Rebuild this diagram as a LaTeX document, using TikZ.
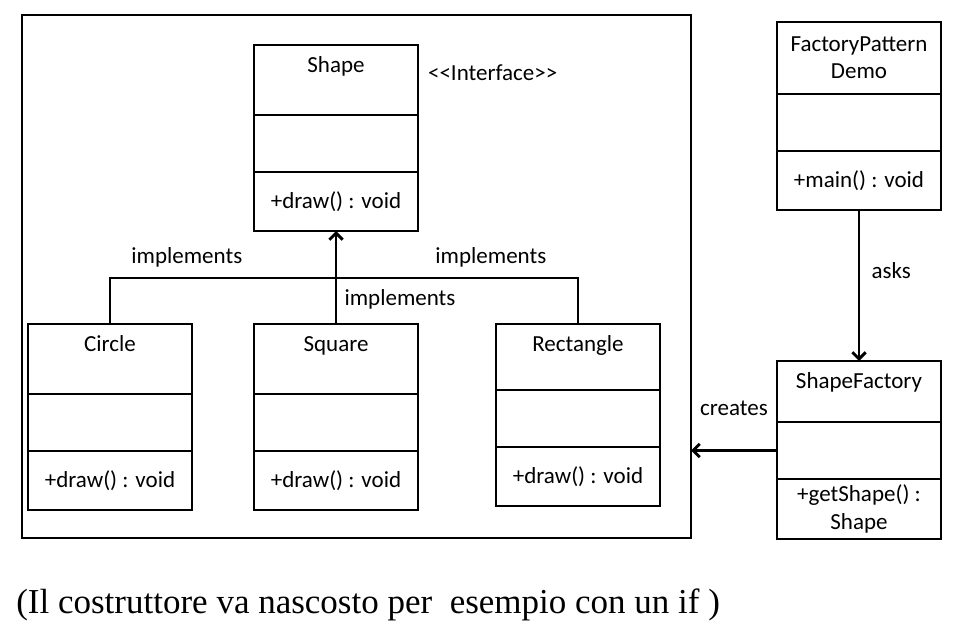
\documentclass[tikz,border=0pt]{standalone}
\usepackage{fontspec}
\setmainfont{Carlito}
\newfontfamily\notefont{Liberation Serif}
\usetikzlibrary{arrows.meta,positioning}

\begin{document}
\begin{tikzpicture}[
    x=1pt, y=1pt,
    node distance=0pt,
    every node/.style={font=\fontsize{17.25}{20.5}\selectfont},
    box/.style={draw, line width=2.2pt, minimum width=123pt, inner sep=0pt, outer sep=0pt},
    classname/.style={box, text height=20.25pt, text depth=32.25pt},
    attrs/.style={box, minimum height=42.75pt},
    methods/.style={box, minimum height=44.25pt},
    pkgframe/.style={draw, line width=2.2pt, inner sep=0pt, outer sep=0pt},
    link/.style={line width=2.2pt},
    >={Straight Barb[length=5pt,width=10pt]}
]
\useasboundingbox (0,0) rectangle (721.5,-476.25);

\node[pkgframe, minimum width=501.75pt, minimum height=392.25pt, anchor=north west] (frame) at (16.5,-11.25) {};

% Interface
\node[classname, anchor=north west] (shape) at (190.5,-33.75) {Shape};
\node[attrs, below=of shape] (shape-a) {};
\node[methods, below=of shape-a] (shape-m) {+draw() : void};
\node[right=4pt of shape.north east, yshift=-21pt] (iface) {<\kern0pt<Interface>\kern0pt>};

% Concrete shapes
\node[classname, below=69.75pt of shape-m] (square) {Square};
\node[attrs, below=of square] (square-a) {};
\node[methods, below=of square-a] (square-m) {+draw() : void};
\node[classname, left=46.5pt of square] (circle) {Circle};
\node[attrs, below=of circle] (circle-a) {};
\node[methods, below=of circle-a] (circle-m) {+draw() : void};
\node[classname, right=58.5pt of square.north east, anchor=north west, text depth=29.25pt] (rectangle) {Rectangle};
\node[attrs, below=of rectangle] (rectangle-a) {};
\node[methods, below=of rectangle-a] (rectangle-m) {+draw() : void};

% Client and factory
\node[box, minimum height=54pt, align=center, anchor=north west] (demo) at (582.75,-16.5) {FactoryPattern\\Demo};
\node[attrs, below=of demo] (demo-a) {};
\node[methods, below=of demo-a] (demo-m) {+main() : void};
\node[classname, text depth=25.5pt, below=113.25pt of demo-m] (factory) {ShapeFactory};
\node[attrs, below=of factory] (factory-a) {};
\node[methods, minimum height=45pt, align=center, below=of factory-a] (factory-m) {+getShape() :\\Shape};

% Realizations
\coordinate[above=34.5pt of square.north] (bar);
\draw[link] (circle.north) |- (bar) node[pos=0.67, above=4pt] {implements};
\draw[link] (rectangle.north) |- (bar) node[pos=0.68, above=4pt] {implements};
\draw[link, ->] (square.north) -- (shape-m.south) node[pos=0.27, right=2pt] {implements};

% Factory links
\draw[link, ->] (demo-m.south) -- (factory.north) node[pos=0.4, right=5pt] {asks};
\draw[link, ->] (factory-a.west) -- (factory-a.west -| frame.east) node[midway, above=22pt] {creates};

\node[anchor=west, inner sep=0pt, font=\notefont\fontsize{26.25}{30}\selectfont] (note) at ([xshift=-4.5pt, yshift=-50.25pt]frame.south west) {(Il costruttore va nascosto per\ \ esempio con un if )};

\end{tikzpicture}
\end{document}
